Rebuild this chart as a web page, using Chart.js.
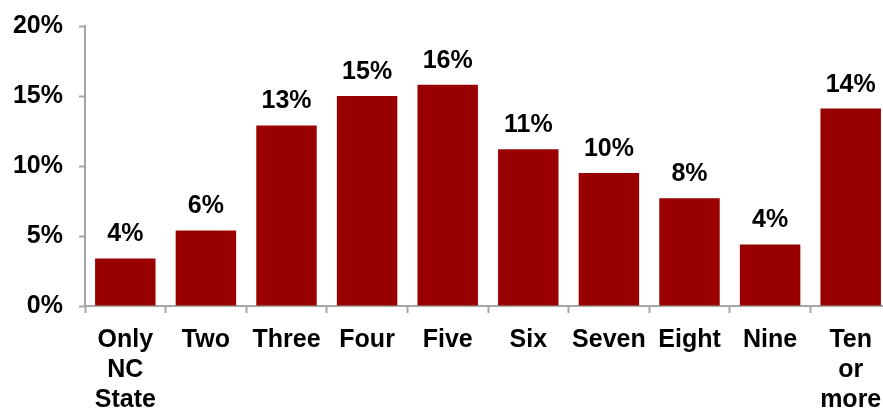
<!DOCTYPE html>
<html>
<head>
<meta charset="utf-8">
<script src="https://cdn.jsdelivr.net/npm/chart.js@4"></script>
<style>
  html, body { margin: 0; padding: 0; background: #fff; overflow: hidden; }
  /* the original plot runs a little past the right edge of the picture */
  #wrap { width: 891px; height: 410px; }
</style>
</head>
<body>
<div id="wrap"><canvas id="chart"></canvas></div>
<script>
const categories = [['Only', 'NC', 'State'], 'Two', 'Three', 'Four', 'Five', 'Six', 'Seven', 'Eight', 'Nine', ['Ten', 'or', 'more']];
const shares = [3.4, 5.4, 12.9, 15.0, 15.8, 11.2, 9.5, 7.7, 4.4, 14.1];
const shareLabels = ['4%', '6%', '13%', '15%', '16%', '11%', '10%', '8%', '4%', '14%'];
const yTicks = [0, 5, 10, 15, 20];

const axisGray = '#a6a6a6';
const fontFamily = '"Liberation Sans", Arial, sans-serif';

// small plugin for the value labels above each bar
const barLabels = {
    id: 'barLabels',
    afterDatasetsDraw(chart) {
        const ctx = chart.ctx;
        const meta = chart.getDatasetMeta(0);
        ctx.save();
        ctx.font = 'bold 25px ' + fontFamily;
        ctx.fillStyle = '#000';
        ctx.textAlign = 'center';
        ctx.textBaseline = 'alphabetic';
        meta.data.forEach((bar, i) => {
            ctx.fillText(shareLabels[i], bar.x, bar.y - 17);
        });
        ctx.restore();
    }
};

document.addEventListener('DOMContentLoaded', () => {
    const ctx = document.getElementById('chart').getContext('2d');
    new Chart(ctx, {
        type: 'bar',
        data: {
            labels: categories,
            datasets: [{
                data: shares,
                backgroundColor: '#990000',
                barPercentage: 0.75,
                categoryPercentage: 1.0
            }]
        },
        options: {
            responsive: true,
            maintainAspectRatio: false,
            animation: false,
            layout: { padding: { top: 26, right: 0, left: 0, bottom: 0 } },
            plugins: {
                legend: { display: false },
                tooltip: { enabled: false }
            },
            scales: {
                x: {
                    border: { color: axisGray, width: 2 },
                    grid: { display: true, drawOnChartArea: false, tickLength: 7, tickColor: axisGray, tickWidth: 2, offset: true },
                    ticks: {
                        color: '#000',
                        padding: 12,
                        maxRotation: 0,
                        autoSkip: false,
                        font: { family: fontFamily, size: 25, weight: 'bold', lineHeight: 1.2 }
                    },
                    afterFit(scale) {
                        scale.height = 104;
                        scale.paddingLeft = 0;
                        scale.paddingRight = 0;
                    }
                },
                y: {
                    min: 0,
                    max: 20,
                    border: { color: axisGray, width: 2 },
                    grid: { display: true, drawOnChartArea: false, tickLength: 6, tickColor: axisGray, tickWidth: 2 },
                    afterBuildTicks(scale) { scale.ticks = yTicks.map(v => ({ value: v })); },
                    ticks: {
                        color: '#000',
                        padding: 16,
                        callback: v => v + '%',
                        font: { family: fontFamily, size: 25, weight: 'bold' }
                    },
                    afterFit(scale) {
                        scale.width = 85;
                        scale.paddingTop = 0;
                        scale.paddingBottom = 0;
                    }
                }
            }
        },
        plugins: [barLabels]
    });
});
</script>
</body>
</html>
